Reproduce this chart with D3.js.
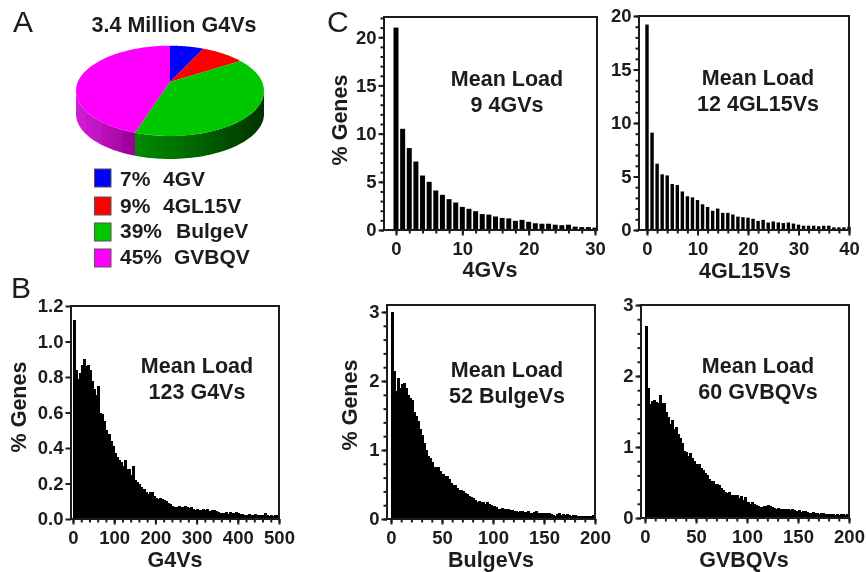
<!DOCTYPE html>
<html>
<head>
<meta charset="utf-8">
<script src="https://cdn.jsdelivr.net/npm/d3@7"></script>
<style>
body { margin:0; background:#fff; }
text { font-family:"Liberation Sans", Arial, sans-serif; font-weight:bold; fill:#1c1c1c; }
.letter { font-weight:normal; font-size:30px; }
.tick text { font-size:18.5px; }
</style>
</head>
<body>
<svg id="chart" width="866" height="572"></svg>
<script>
// pie data
var pie_names = ["4GV","4GL15V","BulgeV","GVBQV"];
var pie_values = [7,9,39,45];
var pie_colors = ["#0000ff","#ff0000","#00c800","#ff00ff"];

// histograms, % genes per bin
var values_4gv = [21,10.5,8.5,7.1,5.65,5,4.1,3.65,3.2,2.85,2.4,2.2,1.95,1.65,1.6,1.4,1.25,1.2,.95,1.05,.85,.7,.65,.65,.55,.5,.55,.35,.3,.3,.25];
var values_4gl = [19.2,9.1,6.2,5.2,5.1,4.3,4.2,3.6,3.15,3.05,2.8,2.4,2.15,1.8,2,1.6,1.6,1.45,1.25,1.2,1.15,1.05,.85,.95,.7,.8,.7,.65,.7,.6,.5,.4,.4,.4,.35,.4,.4,.25,.25,.25,.3];
var values_g4 = [1.12,.84,.79,.82,.87,.9,.86,.87,.84,.78,.73,.7,.75,.6,.59,.55,.5,.48,.44,.41,.37,.35,.33,.32,.3,.33,.28,.28,.25,.3,.22,.21,.2,.18,.17,.15,.14,.15,.15,.13,.12,.115,.12,.11,.105,.1,.09,.085,.075,.07,.07,.075,.07,.07,.075,.065,.06,.065,.055,.05,.055,.05,.05,.055,.05,.055,.045,.05,.05,.045,.04,.035,.035,.035,.04,.03,.04,.035,.035,.04,.035,.03,.03,.025,.025,.03,.025,.025,.03,.025,.025,.02,.025,.035,.02,.015,.02,.015,.025,.02];
var values_bulge = [3,2.15,1.85,2.05,1.9,1.95,1.97,1.9,1.8,1.75,1.72,1.55,1.5,1.42,1.3,1.22,1.1,1,.92,.88,.82,.75,.76,.76,.7,.65,.62,.62,.58,.52,.5,.5,.45,.42,.42,.4,.38,.36,.33,.32,.3,.27,.25,.26,.24,.25,.22,.24,.22,.2,.19,.17,.15,.15,.16,.14,.15,.14,.13,.13,.12,.11,.1,.11,.12,.1,.1,.11,.09,.09,.1,.11,.09,.08,.09,.08,.09,.08,.07,.06,.05,.07,.08,.06,.07,.06,.07,.06,.05,.06,.06,.05,.04,.05,.04,.04,.05,.04,.05,.06];
var values_gvbq = [2.7,1.83,1.6,1.65,1.66,1.63,1.62,1.73,1.62,1.62,1.5,1.42,1.33,1.38,1.25,1.28,1.18,1.12,1.05,.95,.93,.88,.92,.85,.8,.76,.76,.7,.68,.64,.6,.55,.52,.52,.48,.48,.46,.42,.4,.36,.35,.36,.32,.33,.32,.32,.28,.31,.26,.3,.22,.2,.22,.2,.18,.17,.16,.16,.17,.17,.18,.17,.15,.14,.13,.14,.13,.12,.13,.12,.12,.11,.12,.11,.1,.11,.09,.1,.1,.08,.07,.07,.08,.07,.07,.06,.07,.07,.06,.06,.06,.05,.05,.04,.05,.04,.05,.05,.04,.05];

var svg = d3.select("#chart");
var defs = svg.append("defs");

defs.append("filter").attr("id","soft")
	.append("feGaussianBlur").attr("stdDeviation",0.4);

var root = svg.append("g").attr("filter","url(#soft)");

function addText(x,y,str,size,anchor)
{
	return root.append("text").attr("x",x).attr("y",y)
		.attr("text-anchor",anchor || "middle")
		.style("font-size",size+"px")
		.text(str);
}

// ---------- panel letters
root.append("text").attr("class","letter").attr("x",13).attr("y",32).text("A");
root.append("text").attr("class","letter").attr("x",11).attr("y",298).text("B");
root.append("text").attr("class","letter").attr("x",327).attr("y",32).text("C");

// ---------- panel A, the pie has a perspective tilt
addText(174,32,"3.4 Million G4Vs",21.5);

var apex = [170,82], pie_rx = 92.2, pie_ry = 43.4, tilt = 0.196, depth = 23;

function proj(a,dy)
{
	var w = 1 + tilt*Math.cos(a);
	return [apex[0] + pie_rx*Math.sin(a)/w, apex[1] - pie_ry*Math.cos(a)/w + (dy||0)];
}

function arcPoints(a0,a1,dy)
{
	var n = 60, pts = [];
	for (var i=0;i<=n;i++) { pts.push(proj(a0+(a1-a0)*i/n,dy)); }
	return pts;
}

var arcs = d3.pie().sort(null)(pie_values);
var line = d3.line();

function sideGradient(id,x0,x1,c0,c1,c2)
{
	var g = defs.append("linearGradient").attr("id",id)
		.attr("gradientUnits","userSpaceOnUse")
		.attr("x1",x0).attr("x2",x1).attr("y1",0).attr("y2",0);
	g.append("stop").attr("offset","0%").attr("stop-color",c0);
	g.append("stop").attr("offset","50%").attr("stop-color",c1);
	g.append("stop").attr("offset","100%").attr("stop-color",c2);
}
sideGradient("sideGreen",134,264,"#008c00","#006400","#003200");
sideGradient("sideMagenta",76,134,"#d41ed4","#b810b8","#960096");

// front wall, only green and magenta are seen from the front
var edge_right = Math.PI - Math.acos(tilt), edge_left = Math.PI + Math.acos(tilt);
var split = arcs[2].endAngle;
[[edge_right,split,"url(#sideGreen)"],[split,edge_left,"url(#sideMagenta)"]].forEach(function(s)
{
	var top = arcPoints(s[0],s[1],0), bottom = arcPoints(s[1],s[0],depth);
	root.append("path").attr("d",line(top.concat(bottom))+"Z").attr("fill",s[2]);
});

root.selectAll(".slice").data(arcs).enter().append("path")
	.attr("class","slice")
	.attr("d",function(d){ return line([apex].concat(arcPoints(d.startAngle,d.endAngle,0)))+"Z"; })
	.attr("fill",function(d,i){ return pie_colors[i]; });

// legend
var legend_y = [169,197,223,249];
var legend_base = [186,213,238,264];
var legend_x2 = [163,163,176,174];
pie_names.forEach(function(name,i)
{
	root.append("rect").attr("x",94.5).attr("y",legend_y[i]).attr("width",16.5).attr("height",18)
		.attr("fill",pie_colors[i]).attr("stroke","#555").attr("stroke-width",1);
	addText(120,legend_base[i],pie_values[i]+"%",21,"start");
	addText(legend_x2[i],legend_base[i],name,21,"start");
});

// ---------- histograms
function histogram(p)
{
	var x = d3.scaleLinear().domain([0,p.xmax]).range([p.x0,p.x1]);
	var y = d3.scaleLinear().domain([0,p.ymax]).range([p.bottom,p.ytop]);
	var g = root.append("g");

	g.selectAll("rect.bar").data(p.values).enter().append("rect")
		.attr("class","bar")
		.attr("x",function(d,i){ return x(i*p.bin)-p.barw/2 + p.shift; })
		.attr("width",p.barw)
		.attr("y",function(d){ return y(d); })
		.attr("height",function(d){ return p.bottom-y(d); })
		.attr("fill","#000")
		.attr("shape-rendering",p.solid ? "crispEdges" : "auto");

	// frame
	g.append("rect").attr("x",p.left).attr("y",p.top)
		.attr("width",p.right-p.left).attr("height",p.bottom-p.top)
		.attr("fill","none").attr("stroke","#1c1c1c").attr("stroke-width",2);

	// minor ticks first, then the labelled ones
	var xm = g.append("g").attr("transform","translate(0,"+p.bottom+")")
		.call(d3.axisBottom(x).tickValues(d3.range(0,p.xmax+.001,p.xminor)).tickSize(3.5).tickFormat(""));
	var xa = g.append("g").attr("transform","translate(0,"+p.bottom+")")
		.call(d3.axisBottom(x).tickValues(p.xticks).tickSize(5.5).tickPadding(6).tickFormat(d3.format("d")));
	var ya = g.append("g").attr("transform","translate("+p.left+",0)")
		.call(d3.axisLeft(y).tickValues(p.yticks).tickSize(5.5).tickPadding(2).tickFormat(p.yformat));
	[xm,xa,ya].forEach(function(a)
	{
		a.select(".domain").remove();
		a.selectAll("line").attr("stroke","#1c1c1c").attr("stroke-width",2);
		a.selectAll("text").attr("fill","#1c1c1c");
	});
	if (p.yminor)
	{
		var ym = g.append("g").attr("transform","translate("+p.left+",0)")
			.call(d3.axisLeft(y).tickValues(d3.range(0,p.ymax+.001,p.yminor)).tickSize(3.5).tickFormat(""));
		ym.select(".domain").remove();
		ym.selectAll("line").attr("stroke","#1c1c1c").attr("stroke-width",2);
	}

	addText(p.notex,p.notey,"Mean Load",21.5);
	addText(p.notex,p.notey+26,p.note,21.5);
	addText(p.labelx,p.labely,p.label,21.5);
	if (p.ylabelx)
	{
		root.append("text").attr("transform","translate("+p.ylabelx+","+p.ylabely+") rotate(-90)")
			.attr("text-anchor","middle").style("font-size","21.5px").text("% Genes");
	}
}

var int_format = d3.format("d"), dec_format = d3.format(".1f");

histogram({values:values_4gv,bin:1,barw:5,shift:0,xmax:30,x0:396,x1:595,left:384,right:597,top:17,bottom:230,
	ymax:22.1,ytop:17,yticks:[0,5,10,15,20],yminor:1,yformat:int_format,xticks:[0,10,20,30],xminor:2,
	notex:507,notey:86,note:"9 4GVs",labelx:490,labely:277,label:"4GVs",ylabelx:347,ylabely:120});

histogram({values:values_4gl,bin:1,barw:3.4,shift:0,xmax:40,x0:647,x1:849,left:639,right:849,top:16,bottom:230,
	ymax:20,ytop:16,yticks:[0,5,10,15,20],yminor:1,yformat:int_format,xticks:[0,10,20,30,40],xminor:2,
	notex:758,notey:85,note:"12 4GL15Vs",labelx:745,labely:278,label:"4GL15Vs"});

histogram({values:values_g4,solid:true,bin:5,barw:3,shift:1,xmax:500,x0:73,x1:279,left:71,right:279,top:306,bottom:519,
	ymax:1.2,ytop:306,yticks:[0,.2,.4,.6,.8,1,1.2],yformat:dec_format,xticks:[0,100,200,300,400,500],xminor:20,
	notex:197,notey:373,note:"123 G4Vs",labelx:175,labely:567,label:"G4Vs",ylabelx:26,ylabely:407});

histogram({values:values_bulge,solid:true,bin:2,barw:3,shift:1,xmax:200,x0:391,x1:595,left:387,right:595,top:305,bottom:519,
	ymax:3,ytop:312,yticks:[0,1,2,3],yminor:.2,yformat:int_format,xticks:[0,50,100,150,200],xminor:10,
	notex:507,notey:377,note:"52 BulgeVs",labelx:491,labely:567,label:"BulgeVs",ylabelx:357,ylabely:405});

histogram({values:values_gvbq,solid:true,bin:2,barw:3,shift:1,xmax:200,x0:645,x1:849,left:641,right:849,top:305,bottom:518,
	ymax:3,ytop:305,yticks:[0,1,2,3],yminor:.2,yformat:int_format,xticks:[0,50,100,150,200],xminor:10,
	notex:758,notey:373,note:"60 GVBQVs",labelx:744,labely:567,label:"GVBQVs"});
</script>
</body>
</html>
